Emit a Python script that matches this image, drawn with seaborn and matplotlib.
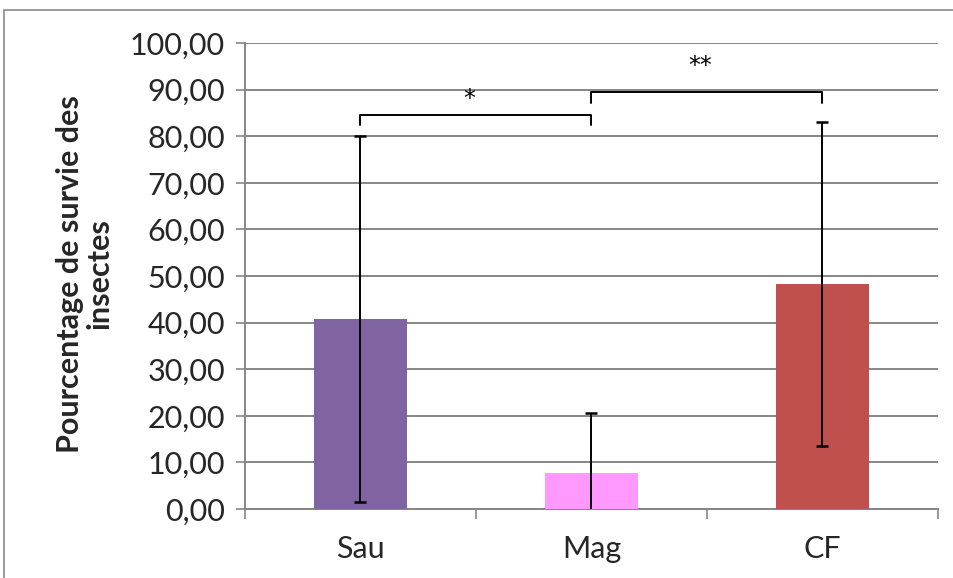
import matplotlib
matplotlib.use("Agg")
import matplotlib.pyplot as plt
import seaborn as sns
import pandas as pd
from matplotlib.patches import Rectangle

# ---- data ----
categories = ["Sau", "Mag", "CF"]
means = [40.8, 7.7, 48.3]
errors = [39.2, 12.9, 34.7]
colors = ["#8064A2", "#FF99FF", "#C0504D"]
y_ticks = [0, 10, 20, 30, 40, 50, 60, 70, 80, 90, 100]
y_tick_labels = ["0,00", "10,00", "20,00", "30,00", "40,00", "50,00",
                 "60,00", "70,00", "80,00", "90,00", "100,00"]
ylabel = "Pourcentage de survie des\ninsectes"
# significance brackets: (from category, to category, height, tick drop, label, label height)
brackets = [(0, 1, 84.5, 2.0, "*", 88.0), (1, 2, 89.5, 2.4, "**", 95.0)]

sns.set_theme(style="white")
plt.rcParams["font.family"] = ["Lato", "DejaVu Sans"]

fig = plt.figure(figsize=(9.54, 5.78), dpi=100)
ax = fig.add_axes([245/954, 1-509/578, (938-245)/954, (509-43)/578])

df = pd.DataFrame({"cat": categories, "val": means})
sns.barplot(data=df, x="cat", y="val", hue="cat", palette=colors, legend=False,
            width=0.4, errorbar=None, saturation=1, linewidth=0, ax=ax, zorder=3)
ax.errorbar(range(len(categories)), means, yerr=errors, fmt="none",
            ecolor="black", elinewidth=1.4, capsize=4.3, capthick=1.8, zorder=4)

grid_c = "#868686"
ax.set_ylim(0, 100)
ax.set_xlim(-0.5, 2.5)
ax.set_yticks(y_ticks)
ax.set_yticklabels(y_tick_labels, fontsize=22)
ax.yaxis.grid(True, color=grid_c, linewidth=1.4, zorder=0)
ax.set_axisbelow(True)
ax.tick_params(axis="y", direction="out", length=6.5, width=1.2, color=grid_c,
               pad=8, left=True)
ax.set_xticks(range(len(categories)))
ax.set_xticklabels(categories, fontsize=22)
ax.set_xticks([-0.5, 0.5, 1.5, 2.5], minor=True)
ax.tick_params(axis="x", which="major", length=0, pad=19)
ax.tick_params(axis="x", which="minor", direction="out", length=7, width=1.2,
               color=grid_c, bottom=True)
ax.set_xlabel("")
ax.set_ylabel("")
for s in ["top", "right"]:
    ax.spines[s].set_visible(False)
for s in ["left", "bottom"]:
    ax.spines[s].set_color(grid_c)
    ax.spines[s].set_linewidth(1.4)

for x0, x1, h, drop, lab, ly in brackets:
    ax.plot([x0, x0, x1, x1], [h - drop, h, h, h - drop], color="black",
            linewidth=1.4, clip_on=False, zorder=5)
    ax.text((x0 + x1) / 2 - 0.03, ly, lab, ha="center", va="center",
            fontsize=17, color="black", family="DejaVu Sans")

fig.text(85/954, 1-274/578, ylabel, rotation=90, ha="center", va="center",
         multialignment="center", fontsize=22, fontweight="bold",
         linespacing=1.05)

fig.patches.append(Rectangle((4/954, -0.1), 1.2, 1.1 - 10/578, transform=fig.transFigure,
                             fill=False, edgecolor="#8a8a8a", linewidth=1.2))

fig.savefig("out.png", dpi=100)
